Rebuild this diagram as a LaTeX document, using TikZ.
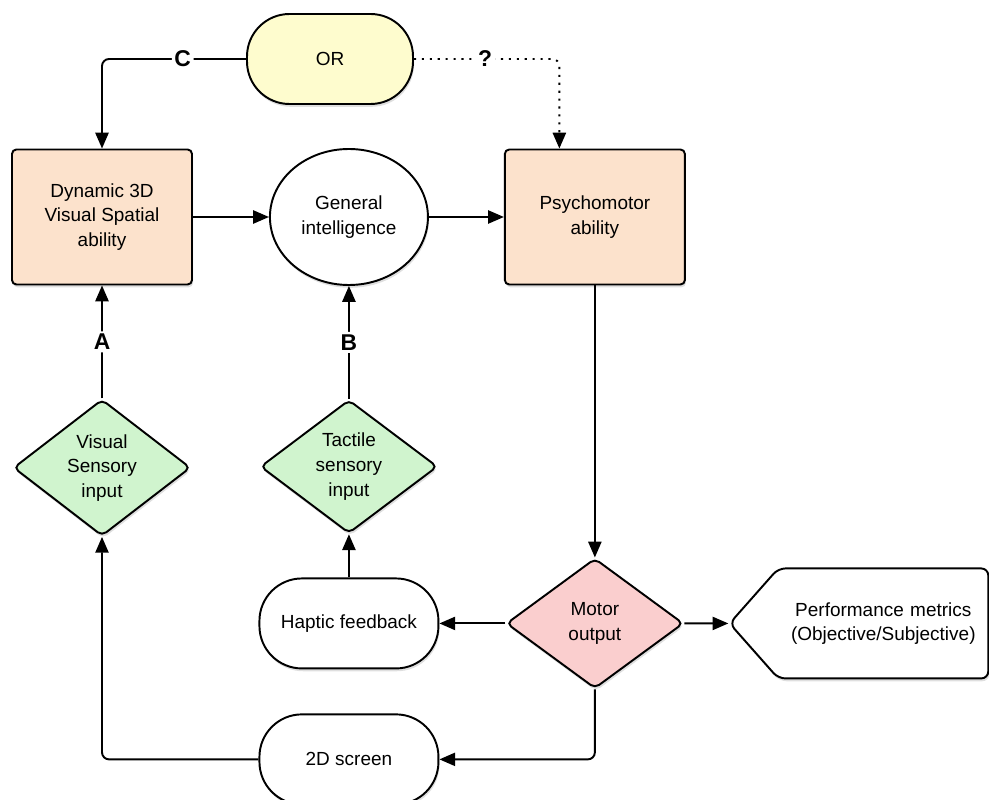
\documentclass[tikz,border=0pt]{standalone}
\usepackage{fontspec}
\setmainfont{Liberation Sans}
\usetikzlibrary{shapes.geometric, shapes.symbols, arrows.meta, positioning, shadows}
\definecolor{peach}{RGB}{252,226,204}
\definecolor{paleyellow}{RGB}{254,252,206}
\definecolor{palegreen}{RGB}{208,244,206}
\definecolor{palepink}{RGB}{250,206,206}
\tikzset{
    softshadow/.style={drop shadow={opacity=0.25, shadow xshift=0.6pt, shadow yshift=-1.6pt}},
    ability/.style={rectangle, rounded corners=2.5pt, minimum width=3.6cm, minimum height=2.7cm, align=center, draw=black, line width=1.1pt, fill=peach, softshadow},
    gate/.style={rectangle, rounded corners=0.85cm, minimum width=3.32cm, minimum height=1.8cm, align=center, draw=black, line width=1.1pt, fill=paleyellow, softshadow},
    hub/.style={ellipse, minimum width=3.16cm, minimum height=2.72cm, inner sep=0pt, align=center, draw=black, line width=1.1pt, fill=white, softshadow},
    sensor/.style={diamond, rounded corners=3pt, minimum width=3.54cm, minimum height=2.6cm, inner sep=0pt, align=center, draw=black, line width=1.1pt, fill=palegreen, softshadow},
    terminal/.style={rectangle, rounded corners=0.85cm, minimum width=3.58cm, minimum height=1.8cm, align=center, draw=black, line width=1.1pt, fill=white, softshadow},
    outcome/.style={signal, signal to=west, signal from=nowhere, signal pointer angle=97, rounded corners=4pt, minimum height=2.2cm, text width=3.96cm, inner xsep=0.12cm, align=center, draw=black, line width=1.1pt, fill=white, softshadow},
    arrow/.style={line width=1.1pt, -{Triangle[length=9pt,width=7.5pt]}, rounded corners=4pt},
    tag/.style={fill=white, inner sep=1.5pt, font=\bfseries\fontsize{13}{15}\selectfont}
}
\begin{document}
\begin{tikzpicture}[font=\fontsize{10.8}{14}\selectfont]
    \useasboundingbox (0,0) rectangle (19.78,-16);
    \node (dyn) [ability] at (2.04,-4.34) {Dynamic 3D\\Visual Spatial\\ability};
    \node (gen) [hub, right=1.52cm of dyn] {General\\intelligence};
    \node (psy) [ability, right=1.5cm of gen] {Psychomotor\\ability};
    \node (or) [gate] at (6.6,-1.18) {OR};
    \node (vis) [sensor, below=2.26cm of dyn] {Visual\\Sensory\\input};
    \node (tac) [sensor, below=2.26cm of gen] {Tactile\\sensory\\input};
    \node (mot) [sensor, fill=palepink, below=5.44cm of psy] {Motor\\output};
    \node (hap) [terminal] at (tac |- mot) {Haptic feedback};
    \node (scr) [terminal, below=0.88cm of hap] {2D screen};
    \node (perf) [outcome, right=0.88cm of mot] {Performance metrics\\(Objective/Subjective)};

    \draw [arrow] (or.west) -| node[tag, pos=0.22] {C} (dyn.north);
    \draw [arrow, dash pattern=on 1.2pt off 3.3pt] (or.east) -| node[tag, pos=0.245] {?} ([xshift=-0.71cm]psy.north);
    \draw [arrow] (dyn) -- (gen);
    \draw [arrow] (gen) -- (psy);
    \draw [arrow] (vis) -- node[tag] {A} (dyn);
    \draw [arrow] (tac) -- node[tag] {B} (gen);
    \draw [arrow] (psy) -- (mot);
    \draw [arrow] (mot) -- (hap);
    \draw [arrow] (mot) -- (perf);
    \draw [arrow] (hap) -- (tac);
    \draw [arrow] (mot.south) |- (scr.east);
    \draw [arrow] (scr.west) -| (vis.south);
\end{tikzpicture}
\end{document}
